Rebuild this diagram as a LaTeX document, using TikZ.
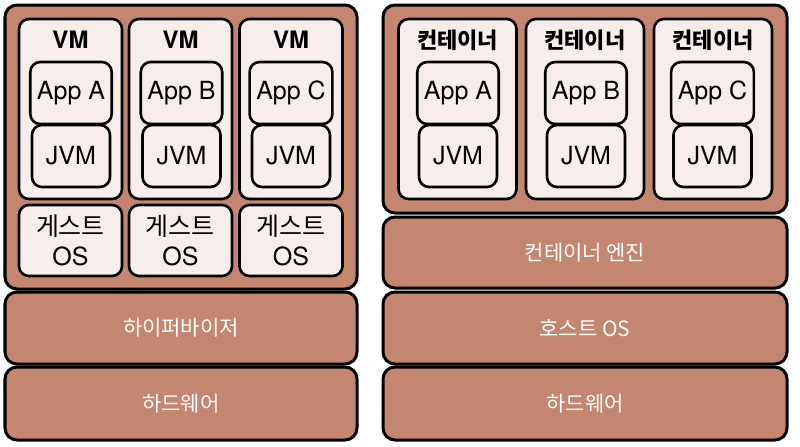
\documentclass[tikz,border=0pt]{standalone}
\usepackage{fontspec}
\setmainfont{TeX Gyre Heros}
\newfontfamily\kr{Noto Sans CJK KR}
\definecolor{clay}{RGB}{196,134,110}
\definecolor{shell}{RGB}{247,238,236}

\begin{document}
\begin{tikzpicture}[
    x=0.5pt, y=-0.5pt,
    layer/.style={draw, line width=1.5pt, rounded corners=6pt, fill=clay, text=white, font=\kr\fontsize{10.5}{12}\selectfont},
    vmbox/.style={draw, line width=1.3pt, rounded corners=5pt, fill=shell, minimum width=51.5pt, minimum height=90pt},
    appbox/.style={draw, line width=1.3pt, rounded corners=5pt, fill=shell, minimum width=39pt, minimum height=31pt, font=\fontsize{12.5}{14}\selectfont},
    guestbox/.style={vmbox, minimum height=35.5pt, align=center, font=\fontsize{12.5}{14}\selectfont},
    title/.style={font=\bfseries\fontsize{12}{14}\selectfont}
]
    \useasboundingbox (0,0) rectangle (800,446);

    % virtual machines
    \node[layer, minimum width=176pt, minimum height=142pt] (hostL) at (181,147) {};
    \node[layer, minimum width=176pt, minimum height=36pt] (hyper) at (181,328) {하이퍼바이저};
    \node[layer, minimum width=176pt, minimum height=36.5pt] (hwL) at (181,403.5) {하드웨어};

    \node[vmbox] (vmA) at (70.5,109) {};
    \node[vmbox] (vmB) at (180.5,109) {};
    \node[vmbox] (vmC) at (291,109) {};
    \node[title] (vmAlbl) at (70.5,40) {VM};
    \node[title] (vmBlbl) at (180.5,40) {VM};
    \node[title] (vmClbl) at (291,40) {VM};
    \node[appbox] (vmAapp) at (71,93) {App A};
    \node[appbox] (vmBapp) at (181.5,93) {App B};
    \node[appbox] (vmCapp) at (291,93) {App C};
    \node[appbox] (vmAjvm) at (71,156) {JVM};
    \node[appbox] (vmBjvm) at (181.5,156) {JVM};
    \node[appbox] (vmCjvm) at (291,156) {JVM};
    \node[guestbox] (guestA) at (70.5,240.5) {{\kr 게스트}\\[1pt]OS};
    \node[guestbox] (guestB) at (180.5,240.5) {{\kr 게스트}\\[1pt]OS};
    \node[guestbox] (guestC) at (291,240.5) {{\kr 게스트}\\[1pt]OS};

    % containers
    \node[layer, minimum width=202pt, minimum height=104pt] (hostR) at (585,109) {};
    \node[layer, minimum width=202pt, minimum height=35.5pt] (engine) at (585,252.5) {컨테이너 엔진};
    \node[layer, minimum width=202pt, minimum height=36pt] (hostos) at (585,328) {호스트 OS};
    \node[layer, minimum width=202pt, minimum height=36.5pt] (hwR) at (585,403.5) {하드웨어};

    \node[vmbox, minimum width=59pt] (ctA) at (457.5,109) {};
    \node[vmbox, minimum width=59pt] (ctB) at (585,109) {};
    \node[vmbox, minimum width=59pt] (ctC) at (713,109) {};
    \node[title, font=\kr\bfseries\fontsize{11}{13}\selectfont] (ctAlbl) at (457.5,40) {컨테이너};
    \node[title, font=\kr\bfseries\fontsize{11}{13}\selectfont] (ctBlbl) at (585,40) {컨테이너};
    \node[title, font=\kr\bfseries\fontsize{11}{13}\selectfont] (ctClbl) at (713,40) {컨테이너};
    \node[appbox] (ctAapp) at (458,93) {App A};
    \node[appbox] (ctBapp) at (586,93) {App B};
    \node[appbox] (ctCapp) at (712.5,93) {App C};
    \node[appbox] (ctAjvm) at (458,156) {JVM};
    \node[appbox] (ctBjvm) at (586,156) {JVM};
    \node[appbox] (ctCjvm) at (712.5,156) {JVM};

\end{tikzpicture}
\end{document}
